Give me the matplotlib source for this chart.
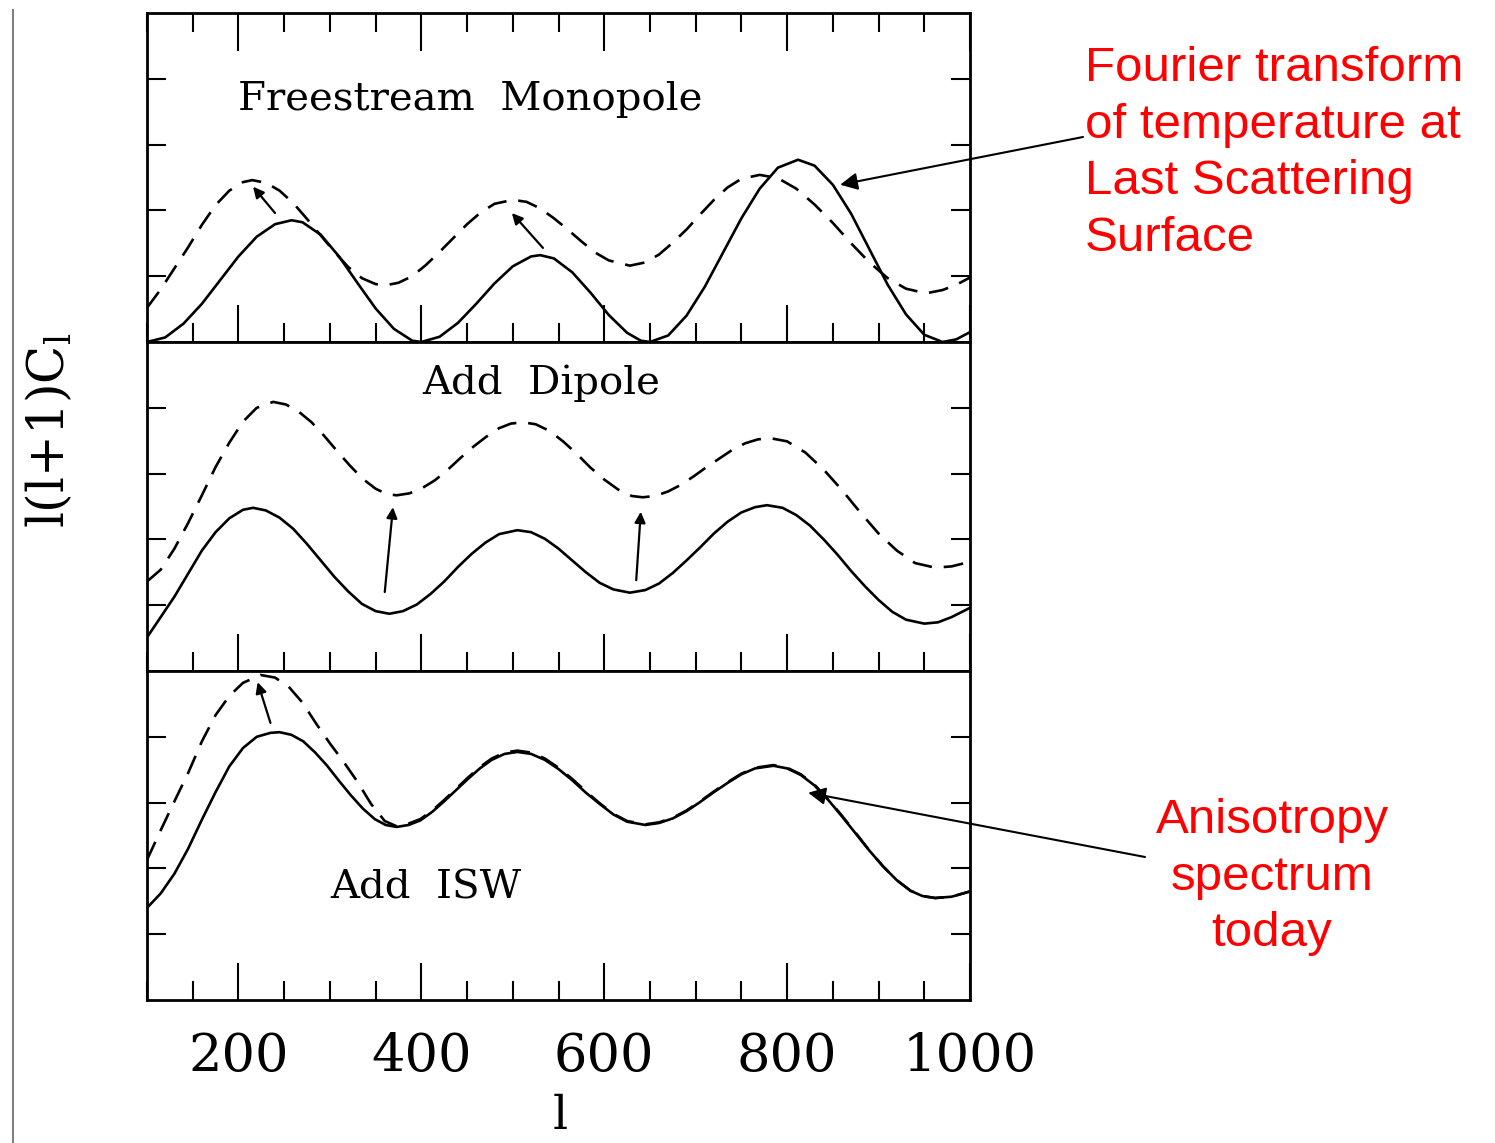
import matplotlib
matplotlib.use("Agg")
import matplotlib.pyplot as plt
from matplotlib.lines import Line2D
from matplotlib.ticker import MultipleLocator

plt.rcParams['mathtext.fontset'] = 'dejavuserif'

# ===== data (l, l(l+1)C_l in arbitrary units) =====
# panel 1: freestream monopole
l_mono = [100, 120, 140, 160, 180, 200, 220, 240, 258, 270, 290, 310, 330, 350, 370, 390,
          400, 420, 440, 460, 480, 500, 520, 530, 545, 565, 585, 605, 625, 640, 650, 670,
          690, 710, 730, 750, 770, 790, 812, 830, 850, 870, 890, 910, 930, 950, 970, 985,
          1000]
mono = [0.0, 0.07, 0.28, 0.58, 0.94, 1.30, 1.60, 1.79, 1.85, 1.82, 1.63, 1.30, 0.90, 0.51,
        0.20, 0.02, 0.0, 0.08, 0.29, 0.58, 0.89, 1.15, 1.30, 1.32, 1.27, 1.06, 0.75, 0.41,
        0.14, 0.02, 0.0, 0.10, 0.40, 0.84, 1.36, 1.88, 2.33, 2.65, 2.77, 2.68, 2.39, 1.95,
        1.41, 0.87, 0.42, 0.11, 0.0, 0.04, 0.15]
l_mono_d = [100, 115, 130, 145, 160, 175, 190, 205, 215, 230, 245, 260, 275, 290, 305, 320,
            335, 350, 360, 375, 390, 405, 420, 435, 450, 465, 480, 500, 515, 530, 545, 560,
            575, 590, 605, 628, 645, 660, 675, 690, 705, 720, 735, 750, 770, 790, 810, 830,
            850, 870, 890, 910, 930, 952, 970, 985, 1000]
mono_d = [0.52, 0.80, 1.12, 1.44, 1.78, 2.08, 2.30, 2.43, 2.46, 2.42, 2.30, 2.11, 1.87, 1.62,
          1.37, 1.14, 0.97, 0.88, 0.86, 0.90, 1.00, 1.17, 1.37, 1.58, 1.79, 1.97, 2.10, 2.16,
          2.13, 2.03, 1.88, 1.71, 1.53, 1.36, 1.24, 1.16, 1.21, 1.33, 1.51, 1.71, 1.94, 2.16,
          2.35, 2.48, 2.54, 2.49, 2.33, 2.09, 1.81, 1.50, 1.21, 0.97, 0.81, 0.74, 0.79, 0.87,
          0.98]

# panel 2: add dipole
l_dip = [100, 115, 130, 145, 160, 175, 190, 205, 216, 230, 245, 260, 275, 290, 305, 320,
         335, 350, 365, 380, 395, 410, 425, 440, 455, 470, 485, 505, 520, 535, 550, 565,
         580, 595, 610, 628, 645, 660, 675, 690, 705, 720, 735, 750, 765, 778, 795, 810,
         825, 840, 855, 870, 885, 900, 915, 930, 950, 965, 980, 1000]
dip = [0.51, 0.82, 1.13, 1.48, 1.83, 2.11, 2.32, 2.45, 2.48, 2.44, 2.33, 2.16, 1.93, 1.68,
       1.43, 1.21, 1.02, 0.91, 0.87, 0.91, 1.01, 1.17, 1.36, 1.58, 1.78, 1.95, 2.08, 2.14,
       2.11, 2.01, 1.86, 1.68, 1.50, 1.34, 1.24, 1.19, 1.23, 1.33, 1.49, 1.68, 1.88, 2.09,
       2.27, 2.41, 2.49, 2.52, 2.48, 2.37, 2.21, 2.00, 1.77, 1.52, 1.29, 1.08, 0.90, 0.78,
       0.72, 0.74, 0.82, 0.96]
l_dip_d = [100, 115, 130, 145, 160, 175, 190, 205, 220, 238, 252, 266, 280, 294, 308, 322,
           336, 350, 362, 373, 387, 401, 415, 429, 443, 457, 471, 485, 498, 511, 525, 540,
           555, 570, 585, 600, 615, 630, 642, 656, 670, 684, 698, 712, 726, 740, 754, 768,
           781, 800, 820, 840, 860, 880, 900, 920, 940, 962, 980, 1000]
dip_d = [1.36, 1.54, 1.86, 2.25, 2.67, 3.10, 3.47, 3.79, 4.00, 4.09, 4.05, 3.94, 3.78, 3.57,
         3.34, 3.12, 2.92, 2.77, 2.69, 2.67, 2.70, 2.78, 2.90, 3.06, 3.24, 3.41, 3.56, 3.69,
         3.76, 3.78, 3.75, 3.65, 3.49, 3.30, 3.09, 2.91, 2.76, 2.66, 2.64, 2.66, 2.73, 2.83,
         2.96, 3.10, 3.23, 3.36, 3.46, 3.52, 3.54, 3.49, 3.32, 3.06, 2.75, 2.41, 2.09, 1.83,
         1.64, 1.57, 1.59, 1.66]

# panel 3: add ISW
l_isw = [100, 115, 130, 145, 160, 175, 190, 205, 220, 235, 245, 258, 271, 284, 297, 310,
         323, 336, 349, 361, 373, 386, 399, 412, 425, 438, 451, 464, 477, 491, 505, 520,
         535, 550, 565, 580, 595, 610, 625, 645, 660, 675, 690, 705, 720, 735, 750, 765,
         785, 800, 815, 830, 845, 860, 875, 890, 905, 920, 935, 948, 962, 980, 1000]
isw = [1.40, 1.62, 1.92, 2.30, 2.74, 3.16, 3.55, 3.83, 4.00, 4.06, 4.07, 4.03, 3.93, 3.76,
       3.56, 3.33, 3.11, 2.91, 2.75, 2.66, 2.63, 2.66, 2.73, 2.86, 3.02, 3.19, 3.36, 3.52,
       3.65, 3.74, 3.77, 3.74, 3.65, 3.51, 3.34, 3.15, 2.98, 2.82, 2.71, 2.66, 2.69, 2.76,
       2.87, 3.01, 3.16, 3.30, 3.43, 3.52, 3.56, 3.52, 3.42, 3.26, 3.04, 2.79, 2.53, 2.27,
       2.03, 1.82, 1.66, 1.58, 1.55, 1.57, 1.65]
l_isw_d = [100, 115, 130, 145, 160, 175, 190, 205, 224, 240, 255, 270, 285, 300, 315, 330,
           345, 360, 373, 386, 399, 412, 425, 438, 451, 464, 477, 491, 505, 520, 535, 550,
           565, 580, 595, 610, 625, 645, 660, 675, 690, 705, 720, 735, 750, 765, 785, 800,
           815, 830, 845, 860, 875, 890, 905, 920, 935, 948, 962, 980, 1000]
isw_d = [2.13, 2.58, 3.02, 3.45, 3.93, 4.33, 4.62, 4.82, 4.94, 4.90, 4.76, 4.52, 4.20, 3.90,
         3.62, 3.32, 2.98, 2.72, 2.64, 2.68, 2.75, 2.88, 3.04, 3.21, 3.38, 3.54, 3.67, 3.76,
         3.79, 3.76, 3.67, 3.53, 3.36, 3.17, 2.99, 2.83, 2.72, 2.67, 2.70, 2.77, 2.88, 3.02,
         3.17, 3.31, 3.44, 3.53, 3.57, 3.53, 3.43, 3.27, 3.05, 2.80, 2.54, 2.27, 2.03, 1.82,
         1.66, 1.58, 1.55, 1.57, 1.65]

xticks = [200, 400, 600, 800, 1000]
panel_names = ["Freestream  Monopole", "Add  Dipole", "Add  ISW"]
# (x, y) of each panel label, in data units
name_pos = [(200, 3.68), (401, 4.38), (300, 1.70)]
# small arrows inside panels: (tail, head)
shift_arrows = [
    [((240, 1.96), (216, 2.36)), ((533, 1.43), (499, 1.96))],
    [((360, 1.2), (369, 2.49)), ((635, 1.38), (640, 2.42))],
    [((235, 4.21), (221, 4.83))],
]

W, H = 1495, 1143
fig = plt.figure(figsize=(W / 100, H / 100), dpi=100)

left, right = 147 / W, 970 / W
tops = [13, 342, 671]
ph = 329 / H

series = [(l_mono, mono, l_mono_d, mono_d),
          (l_dip, dip, l_dip_d, dip_d),
          (l_isw, isw, l_isw_d, isw_d)]

axes = []
for i, (ls, s, ld, d) in enumerate(series):
    bottom = 1 - (tops[i] + 329) / H
    ax = fig.add_axes([left, bottom, right - left, ph])
    ax.plot(ls, s, color='black', lw=1.9, solid_joinstyle='round')
    ax.plot(ld, d, color='black', lw=1.9, dashes=(7.5, 4.5))
    ax.set_xlim(100, 1000)
    ax.set_ylim(0, 5)
    for sp in ax.spines.values():
        sp.set_linewidth(2.0)
    ax.xaxis.set_major_locator(MultipleLocator(200))
    ax.xaxis.set_minor_locator(MultipleLocator(50))
    ax.set_yticks([1, 2, 3, 4])
    ax.tick_params(axis='x', which='major', direction='in', length=27, width=1.5,
                   top=(i == 0), bottom=True)
    ax.tick_params(axis='x', which='minor', direction='in', length=14, width=1.5,
                   top=(i == 0), bottom=True)
    ax.tick_params(axis='y', which='major', direction='in', length=14, width=1.5,
                   left=True, right=True, labelleft=False)
    if i < 2:
        ax.tick_params(axis='x', labelbottom=False)
    else:
        ax.set_xticks(xticks)
        ax.set_xticklabels([str(v) for v in xticks], family='DejaVu Serif', fontsize=38)
        ax.tick_params(axis='x', which='major', pad=22)
    ax.text(name_pos[i][0], name_pos[i][1], panel_names[i], family='DejaVu Serif',
            fontsize=29, va='center', ha='left')
    for tail, head in shift_arrows[i]:
        ax.annotate("", xy=head, xytext=tail,
                    arrowprops=dict(arrowstyle='-|>', color='black', lw=1.6,
                                    mutation_scale=16, shrinkA=0, shrinkB=0))
    axes.append(ax)

# callouts
axes[0].annotate("", xy=(858, 2.39), xycoords='data',
                 xytext=(1083 / W, 1 - 137 / H), textcoords='figure fraction',
                 arrowprops=dict(arrowstyle='-|>', color='black', lw=1.5,
                                 mutation_scale=26, shrinkA=0, shrinkB=0))
axes[2].annotate("", xy=(823, 3.15), xycoords='data',
                 xytext=(1145 / W, 1 - 857 / H), textcoords='figure fraction',
                 arrowprops=dict(arrowstyle='-|>', color='black', lw=1.5,
                                 mutation_scale=26, shrinkA=0, shrinkB=0))

red = '#ff0000'
fig.text(1085 / W, 1 - 46 / H, "Fourier transform\nof temperature at\nLast Scattering\nSurface",
         color=red, family='Liberation Sans', fontsize=35.5, ha='left', va='top',
         linespacing=1.33)
fig.text(1272 / W, 1 - 798 / H, "Anisotropy\nspectrum\ntoday",
         color=red, family='Liberation Sans', fontsize=35.5, ha='center', va='top',
         linespacing=1.33, multialignment='center')

# axis labels
fig.text(560 / W, 1 - 1094 / H, "l", family='DejaVu Serif', fontsize=34, ha='center', va='top')
fig.text(50 / W, 1 - 430 / H, r"l(l+1)C$_\mathregular{l}$", family='DejaVu Serif',
         fontsize=36, rotation=90, ha='center', va='center')

# thin grey border line at the far left
fig.add_artist(Line2D([13 / W, 13 / W], [0, 1 - 10 / H], color='#808080', lw=1.5,
                      transform=fig.transFigure))

fig.savefig("out.png", dpi=100)
